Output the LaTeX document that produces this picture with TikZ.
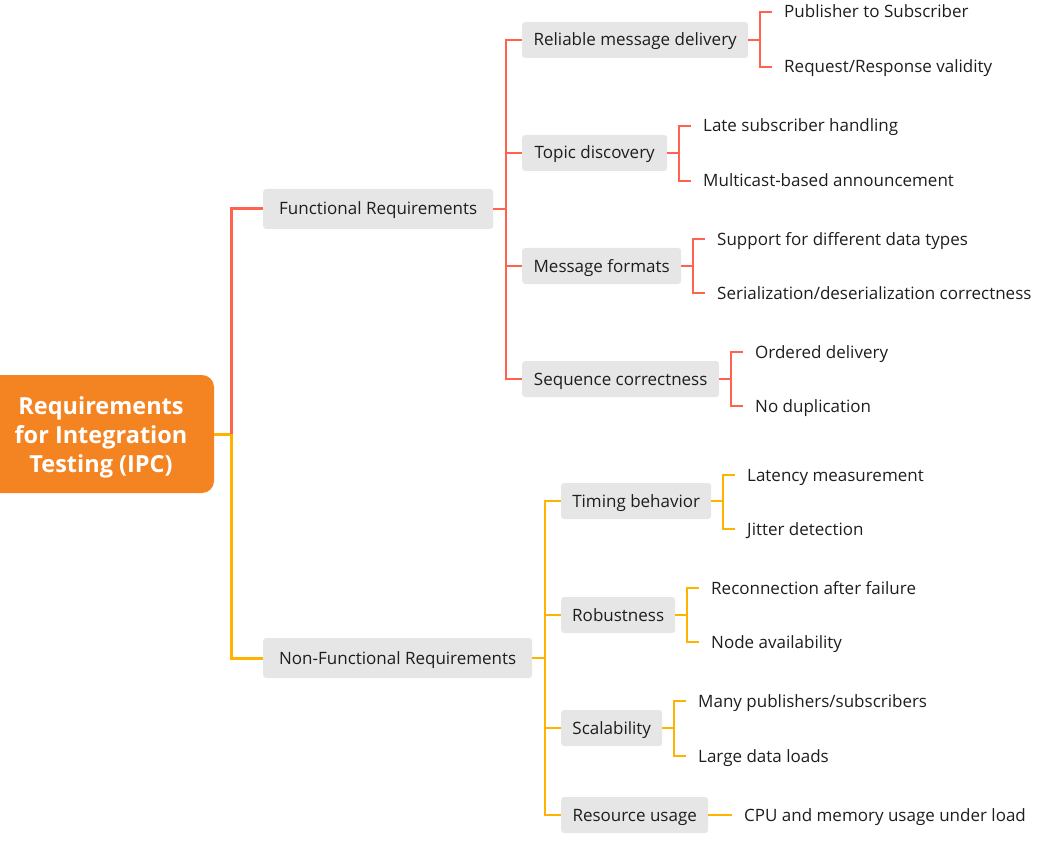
\documentclass[tikz,border=0pt]{standalone}
\usepackage{fontspec}
\setmainfont{Open Sans}
\definecolor{redl}{RGB}{255,99,77}
\definecolor{orl}{RGB}{255,178,0}
\definecolor{rootc}{RGB}{244,131,33}
\definecolor{boxc}{RGB}{230,230,230}
\definecolor{txt}{RGB}{30,30,30}
\begin{document}
\begin{tikzpicture}[x=1pt,y=-1pt,
  rootbox/.style={fill=rootc, rounded corners=12pt, minimum width=228pt, minimum height=118pt,
    inner sep=0pt},
  roottext/.style={inner sep=0pt, align=center, text=white, font=\fontsize{23.5}{29}\selectfont\bfseries},
  catbox/.style={fill=boxc, rounded corners=3pt, minimum height=36pt, inner xsep=0pt,
    anchor=west, text height=12pt, text depth=0pt, text=txt, font=\fontsize{17}{20}\selectfont},
  leaf/.style={anchor=west, inner xsep=12pt, inner ysep=0pt, text height=12pt, text depth=0pt,
    text=txt, font=\fontsize{17}{20}\selectfont},
  redthick/.style={draw=redl, line width=3pt},
  orthick/.style={draw=orl, line width=3pt},
  redthin/.style={draw=redl, line width=2pt},
  orthin/.style={draw=orl, line width=2pt}
]
\useasboundingbox (0,0) rectangle (1043,842);

% root
\node[rootbox] (root) at (100,434) {};
\node[roottext] (rootlabel) at (101,437) {Requirements\\for Integration\\Testing (IPC)};
\coordinate (t1) at (231,434);

% level 1
\node[catbox, minimum width=230pt, minimum height=40pt] (fr) at (263,209) {Functional Requirements};
\node[catbox, minimum width=269pt, minimum height=40pt] (nfr) at (263,658) {Non-Functional Requirements};

\draw[orthick] (root.east) -- (t1) |- (nfr.west);
\draw[redthick] (t1) |- (fr.west);

% functional categories
\node[catbox, minimum width=226pt] (rel) at (522,40) {Reliable message delivery};
\node[catbox, minimum width=145pt] (top) at (522,153) {Topic discovery};
\node[catbox, minimum width=159pt] (msg) at (522,266) {Message formats};
\node[catbox, minimum width=197pt] (seq) at (522,379) {Sequence correctness};

\foreach \c in {rel,top,msg,seq}{
  \draw[redthin] (fr.east) -- ++(13,0) |- (\c.west);
}

% non-functional categories
\node[catbox, minimum width=150pt] (tim) at (561,501) {Timing behavior};
\node[catbox, minimum width=114pt] (rob) at (561,615) {Robustness};
\node[catbox, minimum width=101pt] (sca) at (561,728) {Scalability};
\node[catbox, minimum width=147pt] (res) at (561,815) {Resource usage};

\foreach \c in {tim,rob,sca,res}{
  \draw[orthin] (nfr.east) -- ++(13,0) |- (\c.west);
}

% leaves functional
\node[leaf] (rel1) at (772,12) {Publisher to Subscriber};
\node[leaf] (rel2) at (772,67) {Request/Response validity};
\node[leaf] (top1) at (691,126) {Late subscriber handling};
\node[leaf] (top2) at (691,181) {Multicast-based announcement};
\node[leaf] (msg1) at (705,239) {Support for different data types};
\node[leaf] (msg2) at (705,293) {Serialization/deserialization correctness};
\node[leaf] (seq1) at (743,352) {Ordered delivery};
\node[leaf] (seq2) at (743,406) {No duplication};

\foreach \c/\l in {rel/rel1,rel/rel2,top/top1,top/top2,msg/msg1,msg/msg2,seq/seq1,seq/seq2}{
  \draw[redthin] (\c.east) -- ++(12,0) |- (\l.west);
}

% leaves non-functional
\node[leaf] (tim1) at (735,475) {Latency measurement};
\node[leaf] (tim2) at (735,529) {Jitter detection};
\node[leaf] (rob1) at (699,588) {Reconnection after failure};
\node[leaf] (rob2) at (699,642) {Node availability};
\node[leaf] (sca1) at (686,701) {Many publishers/subscribers};
\node[leaf] (sca2) at (686,756) {Large data loads};
\node[leaf] (res1) at (732,815) {CPU and memory usage under load};

\foreach \c/\l in {tim/tim1,tim/tim2,rob/rob1,rob/rob2,sca/sca1,sca/sca2}{
  \draw[orthin] (\c.east) -- ++(12,0) |- (\l.west);
}
\draw[orthin] (res.east) -- (res1.west);
\end{tikzpicture}
\end{document}
